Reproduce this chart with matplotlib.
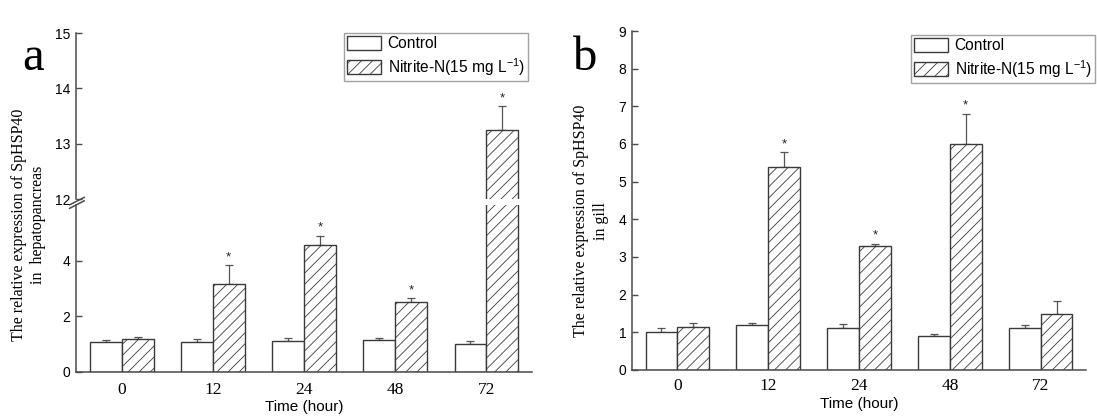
import matplotlib
matplotlib.use("Agg")
import matplotlib.pyplot as plt
import numpy as np

plt.rcParams['mathtext.fontset'] = 'custom'
plt.rcParams['mathtext.rm'] = 'Liberation Sans'
plt.rcParams['hatch.linewidth'] = 0.6
plt.rcParams['hatch.color'] = '#707070'

# ---------------- data ----------------
times = ['0', '12', '24', '48', '72']
series = ['Control', r'Nitrite-N(15 mg L$^{\mathregular{-1}}$)']

a_control = [1.06, 1.09, 1.10, 1.14, 1.02]
a_control_err = [0.08, 0.08, 0.11, 0.07, 0.08]
a_nitrite = [1.18, 3.16, 4.55, 2.53, 13.24]
a_nitrite_err = [0.08, 0.67, 0.34, 0.12, 0.44]
a_sig = [False, True, True, True, True]

b_control = [1.00, 1.19, 1.11, 0.90, 1.11]
b_control_err = [0.12, 0.06, 0.12, 0.06, 0.08]
b_nitrite = [1.15, 5.40, 3.28, 5.99, 1.49]
b_nitrite_err = [0.09, 0.38, 0.07, 0.81, 0.34]
b_sig = [False, True, True, True, False]

a_ylabel = 'The relative expression of SpHSP40\nin  hepatopancreas'
b_ylabel = 'The relative expression of SpHSP40\nin gill'
xlabel = 'Time (hour)'

# ---------------- style ----------------
SPINE = '#4a4a4a'
EDGE = '#3a3a3a'
W = 0.35
SANS = 'Liberation Sans'
SERIF = 'Liberation Serif'

fig = plt.figure(figsize=(10.97, 4.19), dpi=100)
fig.patch.set_facecolor('white')


def draw_bars(ax, ctrl, cerr, nit, nerr, sig, star=True):
    x = np.arange(len(times))
    b1 = ax.bar(x - W / 2, ctrl, W, color='white', edgecolor=EDGE, linewidth=1.0,
                label=series[0], zorder=2)
    b2 = ax.bar(x + W / 2, nit, W, color='white', edgecolor=EDGE, linewidth=1.0,
                hatch='///', label=series[1], zorder=2)
    ax.errorbar(x - W / 2, ctrl, yerr=[np.zeros(len(ctrl)), cerr], fmt='none',
                ecolor='#555555', elinewidth=0.9, capsize=3, capthick=0.9, zorder=1)
    ax.errorbar(x + W / 2, nit, yerr=[np.zeros(len(nit)), nerr], fmt='none',
                ecolor='#555555', elinewidth=0.9, capsize=3, capthick=0.9, zorder=1)
    if star:
        lo, hi = ax.get_ylim()
        for xi, v, e, s in zip(x, nit, nerr, sig):
            if s and lo <= v + e <= hi:
                ax.annotate('*', (xi + W / 2, v + e), xytext=(0, 1.5),
                            textcoords='offset points', ha='center', va='bottom',
                            fontsize=9.5, family=SANS, color='#222222')
    return b1, b2


def style_axes(ax):
    for s in ['top', 'right']:
        ax.spines[s].set_visible(False)
    for s in ['left', 'bottom']:
        ax.spines[s].set_color(SPINE)
        ax.spines[s].set_linewidth(1.1)
    ax.tick_params(axis='y', direction='in', length=4, width=1.0, color=SPINE,
                   labelsize=10, pad=4)
    for lab in ax.get_yticklabels():
        lab.set_family(SANS)
    ax.set_xlim(-0.5, 4.5)


LEG = dict(loc='upper right', prop={'family': SANS, 'size': 11.2}, frameon=True,
           fancybox=False, edgecolor='#8a8a8a', borderpad=0.2, handlelength=2.2,
           handleheight=0.95, handletextpad=0.4, labelspacing=0.3, borderaxespad=0)

# ----- panel a (broken axis) -----
ax_lo = fig.add_axes([0.0693, 0.1122, 0.4157, 0.3986])
ax_hi = fig.add_axes([0.0693, 0.525, 0.4157, 0.396])

ax_lo.set_ylim(0, 6)
ax_hi.set_ylim(12, 15)
draw_bars(ax_lo, a_control, a_control_err, a_nitrite, a_nitrite_err, a_sig)
handles = draw_bars(ax_hi, a_control, a_control_err, a_nitrite, a_nitrite_err, a_sig)

ax_lo.set_yticks([0, 2, 4])
ax_hi.set_yticks([12, 13, 14, 15])
style_axes(ax_lo)
style_axes(ax_hi)
ax_hi.spines['bottom'].set_visible(False)
ax_hi.set_xticks([])
ax_lo.set_xticks(np.arange(len(times)))
ax_lo.set_xticklabels(times, family=SERIF, fontsize=12.5)
ax_lo.tick_params(axis='x', length=0, pad=7)
ax_lo.set_xlabel(xlabel, family=SANS, fontsize=11, labelpad=2)
ax_hi.patch.set_alpha(0)
ax_lo.patch.set_alpha(0)

# break marks
kw = dict(color=SPINE, lw=1.1, clip_on=False)
ax_hi.plot([-0.014, 0.018], [-0.035, 0.01], transform=ax_hi.transAxes, **kw)
ax_lo.plot([-0.014, 0.018], [0.98, 1.025], transform=ax_lo.transAxes, **kw)

fig.text(0.026, 0.464, a_ylabel, rotation=90, ha='center', va='center',
         family=SERIF, fontsize=11.5, linespacing=1.3)
fig.text(0.020, 0.833, 'a', family=SERIF, fontsize=35, ha='left', va='baseline')

fig.legend(handles=handles, labels=series,
           bbox_to_anchor=(528 / 1097, 1 - 33 / 419), bbox_transform=fig.transFigure,
           **LEG)

# ----- panel b -----
ax_b = fig.add_axes([0.5761, 0.117, 0.4139, 0.809])
ax_b.set_ylim(0, 9)
hb = draw_bars(ax_b, b_control, b_control_err, b_nitrite, b_nitrite_err, b_sig)
ax_b.set_yticks(range(0, 10))
style_axes(ax_b)
ax_b.set_xticks(np.arange(len(times)))
ax_b.set_xticklabels(times, family=SERIF, fontsize=12.5)
ax_b.tick_params(axis='x', length=0, pad=6)
ax_b.set_xlabel(xlabel, family=SANS, fontsize=11, labelpad=2)

fig.text(0.5387, 0.4726, b_ylabel, rotation=90, ha='center', va='center',
         family=SERIF, fontsize=11.5, linespacing=1.3)
fig.text(0.522, 0.833, 'b', family=SERIF, fontsize=35, ha='left', va='baseline')

fig.legend(handles=hb, labels=series,
           bbox_to_anchor=(1095 / 1097, 1 - 35 / 419), bbox_transform=fig.transFigure,
           **LEG)

fig.savefig('out.png', dpi=100, facecolor='white')
